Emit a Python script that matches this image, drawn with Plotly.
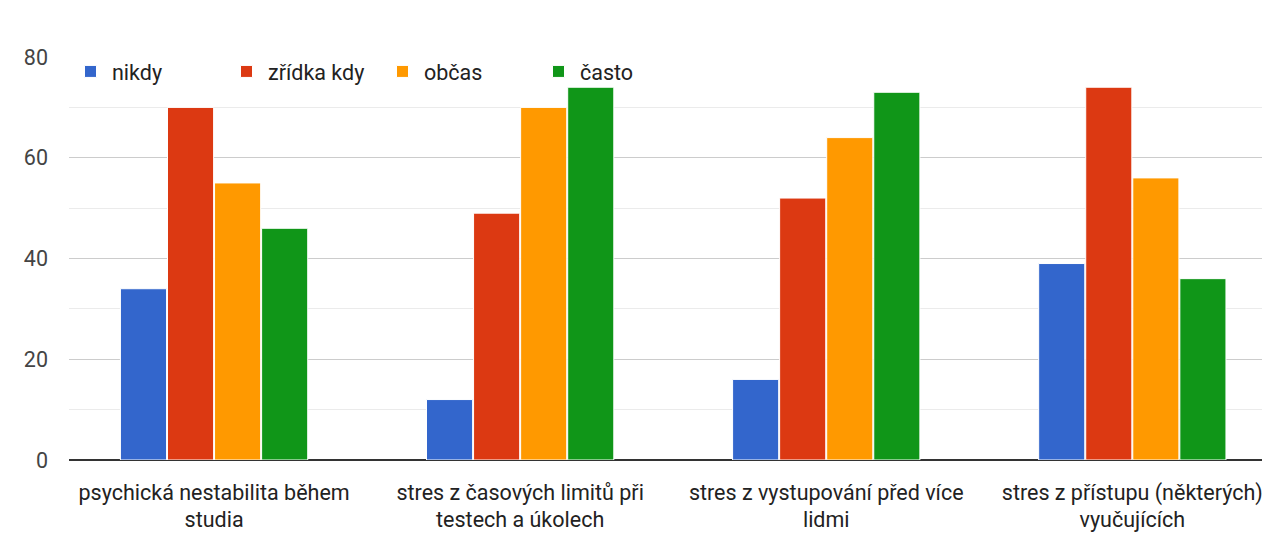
import plotly.graph_objects as go

categories = [
    "psychická nestabilita během<br>studia",
    "stres z časových limitů při<br>testech a úkolech",
    "stres z vystupování před více<br>lidmi",
    "stres z přístupu (některých)<br>vyučujících",
]
series_names = ["nikdy", "zřídka kdy", "občas", "často"]
nikdy = [34, 12, 16, 39]
zridka_kdy = [70, 49, 52, 74]
obcas = [55, 70, 64, 56]
casto = [46, 74, 73, 36]
colors = ["#3366cc", "#dc3912", "#ff9900", "#109618"]
y_ticks = [0, 20, 40, 60, 80]

fig = go.Figure()
for name, vals, col in zip(series_names, [nikdy, zridka_kdy, obcas, casto], colors):
    fig.add_trace(go.Bar(
        name=name, x=categories, y=vals,
        marker=dict(color=col, line=dict(color="white", width=1)),
    ))

fig.update_layout(
    width=1270, height=538,
    margin=dict(l=61, r=0, t=49, b=86),
    paper_bgcolor="white", plot_bgcolor="white",
    barmode="group", bargap=0.385, bargroupgap=0.02,
    font=dict(family="Roboto, Arial, sans-serif", size=21.5, color="#222222"),
    showlegend=True,
    legend=dict(orientation="h", x=0, y=1.015, xanchor="left", yanchor="top",
                font=dict(size=21.5, color="#222222"), bgcolor="rgba(0,0,0,0)",
                itemwidth=33, entrywidth=108, entrywidthmode="pixels",
                traceorder="normal"),
    xaxis=dict(range=[-0.474, 3.476], showgrid=False, tickfont=dict(size=21.5, color="#222222"),
               ticks="", showline=False, ticklabelstandoff=17, automargin=False),
    yaxis=dict(range=[0, 80], tickvals=y_ticks, showgrid=True, gridcolor="#cccccc", gridwidth=1,
               minor=dict(dtick=10, showgrid=True, gridcolor="#ebebeb", gridwidth=1),
               zeroline=True, zerolinecolor="#333333", zerolinewidth=2,
               tickfont=dict(size=21.5, color="#444444"), ticklabelstandoff=20, automargin=False),
)
fig.write_html("out.html")
